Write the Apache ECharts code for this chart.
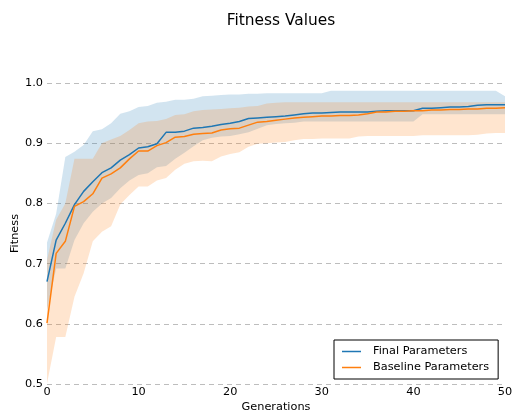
<!DOCTYPE html>
<html>
<head>
<meta charset="utf-8">
<script src="https://cdn.jsdelivr.net/npm/echarts@6/dist/echarts.min.js"></script>
<style>
html,body{margin:0;padding:0;background:#fff;}
#chart{width:512px;height:412px;}
</style>
</head>
<body>
<div id="chart"></div>
<script>
const generations = [0,1,2,3,4,5,6,7,8,9,10,11,12,13,14,15,16,17,18,19,20,21,22,23,24,25,26,27,28,29,30,31,32,33,34,35,36,37,38,39,40,41,42,43,44,45,46,47,48,49,50];

const finalMean = [0.670,0.739,0.767,0.798,0.820,0.836,0.851,0.859,0.872,0.881,0.892,0.894,0.899,0.918,0.918,0.920,0.925,0.926,0.928,0.931,0.933,0.936,0.941,0.942,0.943,0.944,0.945,0.947,0.949,0.950,0.950,0.951,0.952,0.952,0.952,0.952,0.953,0.954,0.954,0.954,0.954,0.958,0.958,0.959,0.960,0.960,0.961,0.963,0.964,0.964,0.964];
const finalUpper = [0.735,0.783,0.877,0.886,0.897,0.920,0.923,0.933,0.949,0.953,0.960,0.962,0.967,0.969,0.972,0.972,0.974,0.978,0.979,0.980,0.981,0.981,0.982,0.982,0.983,0.983,0.983,0.983,0.983,0.983,0.983,0.987,0.987,0.987,0.987,0.987,0.987,0.987,0.987,0.987,0.987,0.987,0.987,0.987,0.987,0.987,0.987,0.987,0.987,0.987,0.978];
const finalLower = [0.623,0.692,0.692,0.739,0.767,0.786,0.800,0.809,0.825,0.838,0.847,0.850,0.860,0.862,0.874,0.884,0.895,0.905,0.909,0.911,0.912,0.915,0.918,0.924,0.930,0.932,0.933,0.934,0.936,0.936,0.936,0.936,0.936,0.936,0.936,0.936,0.936,0.936,0.936,0.936,0.936,0.948,0.948,0.948,0.948,0.948,0.948,0.948,0.948,0.948,0.948];

const baseMean = [0.601,0.717,0.737,0.795,0.803,0.816,0.842,0.849,0.859,0.874,0.887,0.887,0.896,0.901,0.910,0.911,0.915,0.916,0.917,0.922,0.924,0.925,0.930,0.935,0.936,0.938,0.940,0.942,0.943,0.944,0.945,0.945,0.946,0.946,0.947,0.949,0.952,0.952,0.953,0.953,0.954,0.954,0.955,0.955,0.956,0.956,0.957,0.957,0.958,0.958,0.959];
const baseUpper = [0.706,0.773,0.800,0.874,0.874,0.874,0.900,0.906,0.912,0.922,0.933,0.936,0.937,0.940,0.947,0.948,0.953,0.955,0.956,0.957,0.958,0.959,0.961,0.962,0.966,0.967,0.968,0.968,0.968,0.968,0.968,0.968,0.968,0.968,0.968,0.968,0.968,0.968,0.968,0.968,0.968,0.968,0.968,0.968,0.968,0.968,0.968,0.968,0.968,0.968,0.968];
const baseLower = [0.501,0.578,0.578,0.645,0.684,0.737,0.753,0.762,0.798,0.814,0.828,0.828,0.838,0.842,0.856,0.866,0.870,0.871,0.870,0.878,0.882,0.885,0.894,0.899,0.900,0.901,0.902,0.905,0.907,0.907,0.908,0.908,0.908,0.908,0.911,0.912,0.912,0.912,0.912,0.912,0.912,0.913,0.913,0.913,0.913,0.913,0.913,0.914,0.916,0.917,0.917];

const xTicks = [0,10,20,30,40,50];
const yTicks = [0.5,0.6,0.7,0.8,0.9,1.0];

const seriesNames = ['Final Parameters','Baseline Parameters'];
const colors = ['#1f77b4','#ff7f0e'];
const bandColors = ['rgba(31,119,180,0.2)','rgba(255,127,14,0.2)'];

function diffs(up, lo){ return up.map((u,i)=>+(u-lo[i]).toFixed(4)); }

const FONT = 'DejaVu Sans';

function band(key, lo, up, color){
  return [
    {type:'line', stack:key, data:lo.slice(), symbol:'none', silent:true,
     lineStyle:{opacity:0, width:0}, z:1},
    {type:'line', stack:key, data:diffs(up, lo), symbol:'none', silent:true,
     lineStyle:{opacity:0, width:0}, areaStyle:{color:color, opacity:1}, z:1}
  ];
}

const chart = echarts.init(document.getElementById('chart'), null, {renderer:'canvas'});
chart.setOption({
  animation:false,
  backgroundColor:'#fff',
  title:{text:'Fitness Values', left:276, top:8, textAlign:'center',
    textStyle:{fontFamily:FONT, fontSize:15.4, fontWeight:'normal', color:'#000'}},
  grid:{left:47, right:7, top:83, bottom:28, containLabel:false, outerBoundsMode:'none'},
  legend:{
    data:seriesNames, orient:'vertical', left:334, top:340,
    padding:[6,9,6,8], itemGap:5, itemWidth:19, itemHeight:1.5, icon:'rect',
    borderColor:'#000', borderWidth:1, borderRadius:0, backgroundColor:'#fff',
    textStyle:{fontFamily:FONT, fontSize:11.3, color:'#000', padding:[0,0,0,7]}
  },
  xAxis:{type:'category', data:generations.map(String), boundaryGap:false,
    name:'Generations', nameLocation:'middle', nameGap:18, nameMoveOverlap:false,
    nameTextStyle:{fontFamily:FONT, fontSize:11.3, color:'#000'},
    axisLine:{show:false}, axisTick:{show:false}, splitLine:{show:false},
    axisLabel:{fontFamily:FONT, fontSize:11.3, color:'#000', margin:3,
      interval:(i,v)=>xTicks.includes(Number(v))}},
  yAxis:{type:'value', min:0.5, max:1.0, interval:0.1,
    name:'Fitness', nameLocation:'middle', nameGap:26, nameRotate:90, nameMoveOverlap:false,
    nameTextStyle:{fontFamily:FONT, fontSize:11.3, color:'#000'},
    axisLine:{show:false}, axisTick:{show:false},
    splitLine:{show:true, lineStyle:{color:'#bdbdbd', type:[5,4], width:1}},
    axisLabel:{fontFamily:FONT, fontSize:11.3, color:'#000', margin:4,
      formatter:v=>{const t=yTicks.find(y=>Math.abs(y-v)<1e-6); return t===undefined?'':t.toFixed(1);}}},
  series:[
    ...band('finalBand', finalLower, finalUpper, bandColors[0]),
    ...band('baseBand', baseLower, baseUpper, bandColors[1]),
    {name:seriesNames[0], type:'line', data:finalMean, symbol:'none',
     lineStyle:{color:colors[0], width:1.5}, itemStyle:{color:colors[0]}, z:5},
    {name:seriesNames[1], type:'line', data:baseMean, symbol:'none',
     lineStyle:{color:colors[1], width:1.5}, itemStyle:{color:colors[1]}, z:5}
  ]
});
</script>
</body>
</html>
